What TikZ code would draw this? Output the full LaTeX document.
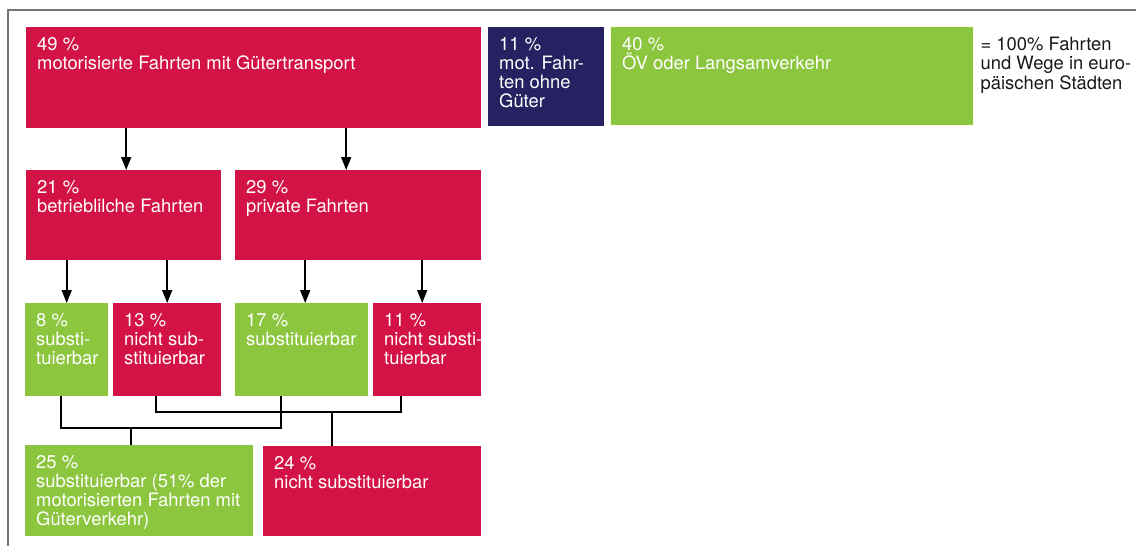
\documentclass[tikz,border=0pt]{standalone}
\usepackage{fontspec}
\setmainfont{TeX Gyre Heros}
\usetikzlibrary{positioning, arrows.meta}

\definecolor{crimson}{HTML}{D31245}
\definecolor{navy}{HTML}{262262}
\definecolor{leaf}{HTML}{8CC63F}

\begin{document}
\begin{tikzpicture}[x=1pt, y=-1pt,
    font=\fontsize{18.4}{19.2}\selectfont,
    cell/.style={anchor=north west, inner sep=0pt, draw=none},
    red/.style={cell, fill=crimson},
    blue/.style={cell, fill=navy},
    green/.style={cell, fill=leaf},
    txt/.style={anchor=north west, align=left, text=white, inner xsep=11pt, inner ysep=10pt},
    arr/.style={-{Triangle[length=13pt, width=10pt]}, line width=1.6pt},
    link/.style={line width=1.7pt}]

    \useasboundingbox (0,0) rectangle (1136,546);
    \draw[line width=1.3pt, color=black!55] (8,546) -- (8,10) -- (1136,10);

    % top row
    \node[red, minimum width=455pt, minimum height=101pt] (mot) at (26,27) {};
    \node[txt] (mot-t) at (mot.north west) {49 \%\\motorisierte Fahrten mit Gütertransport};
    \node[blue, minimum width=116pt, minimum height=99pt] (ohne) at (488,27) {};
    \node[txt] (ohne-t) at (ohne.north west) {11 \%\\mot. Fahr-\\ten ohne\\Güter};
    \node[green, minimum width=362pt, minimum height=98pt] (oev) at (611,27) {};
    \node[txt] (oev-t) at (oev.north west) {40 \%\\ÖV oder Langsamverkehr};
    \node[txt, text=black!90, inner xsep=0pt, right=7pt of oev.north east, anchor=north west] (sum)
        {= 100\% Fahrten\\und Wege in euro-\\päischen Städten};

    % second row
    \node[red, minimum width=195pt, minimum height=90pt] (betr) at (26,170) {};
    \node[txt] (betr-t) at (betr.north west) {21 \%\\betrieblilche Fahrten};
    \node[red, minimum width=246pt, minimum height=90pt] (priv) at (235,170) {};
    \node[txt] (priv-t) at (priv.north west) {29 \%\\private Fahrten};

    % third row
    \node[green, minimum width=83pt, minimum height=93pt] (bsub) at (25,303) {};
    \node[txt] (bsub-t) at (bsub.north west) {8 \%\\substi-\\tuierbar};
    \node[red, minimum width=108pt, minimum height=93pt] (bnsub) at (113,303) {};
    \node[txt] (bnsub-t) at (bnsub.north west) {13 \%\\nicht sub-\\stituierbar};
    \node[green, minimum width=133pt, minimum height=93pt] (psub) at (235,303) {};
    \node[txt] (psub-t) at (psub.north west) {17 \%\\substituierbar};
    \node[red, minimum width=108pt, minimum height=93pt] (pnsub) at (373,303) {};
    \node[txt] (pnsub-t) at (pnsub.north west) {11 \%\\nicht substi-\\tuierbar};

    % bottom row
    \node[green, minimum width=228pt, minimum height=91pt] (sub) at (25,445) {};
    \node[txt] (sub-t) at (sub.north west) {25 \%\\substituierbar (51\% der\\motorisierten Fahrten mit\\Güterverkehr)};
    \node[red, minimum width=218pt, minimum height=90pt] (nsub) at (263,446) {};
    \node[txt] (nsub-t) at (nsub.north west) {24 \%\\nicht substituierbar};

    \coordinate (subjoin) at (131,428);
    \coordinate (nsubjoin) at (332,412);

    \draw[arr] ([xshift=2.5pt]mot.south -| betr.north) -- ([xshift=2.5pt]betr.north);
    \draw[arr] ([xshift=-12pt]mot.south -| priv.north) -- ([xshift=-12pt]priv.north);
    \draw[arr] (betr.south -| bsub.north) -- (bsub.north);
    \draw[arr] (betr.south -| bnsub.north) -- (bnsub.north);
    \draw[arr] ([xshift=3.5pt]priv.south -| psub.north) -- ([xshift=3.5pt]psub.north);
    \draw[arr] ([xshift=-5pt]priv.south -| pnsub.north) -- ([xshift=-5pt]pnsub.north);

    \draw[link] ([xshift=-5.5pt]bsub.south) |- (subjoin) -| ([xshift=-20.5pt]psub.south);
    \draw[link] (subjoin) -- (subjoin |- sub.north);
    \draw[link] ([xshift=-11pt]bnsub.south) |- (nsubjoin) -| ([xshift=-26pt]pnsub.south);
    \draw[link] (nsubjoin) -- (nsubjoin |- nsub.north);
  \end{tikzpicture}
\end{document}
